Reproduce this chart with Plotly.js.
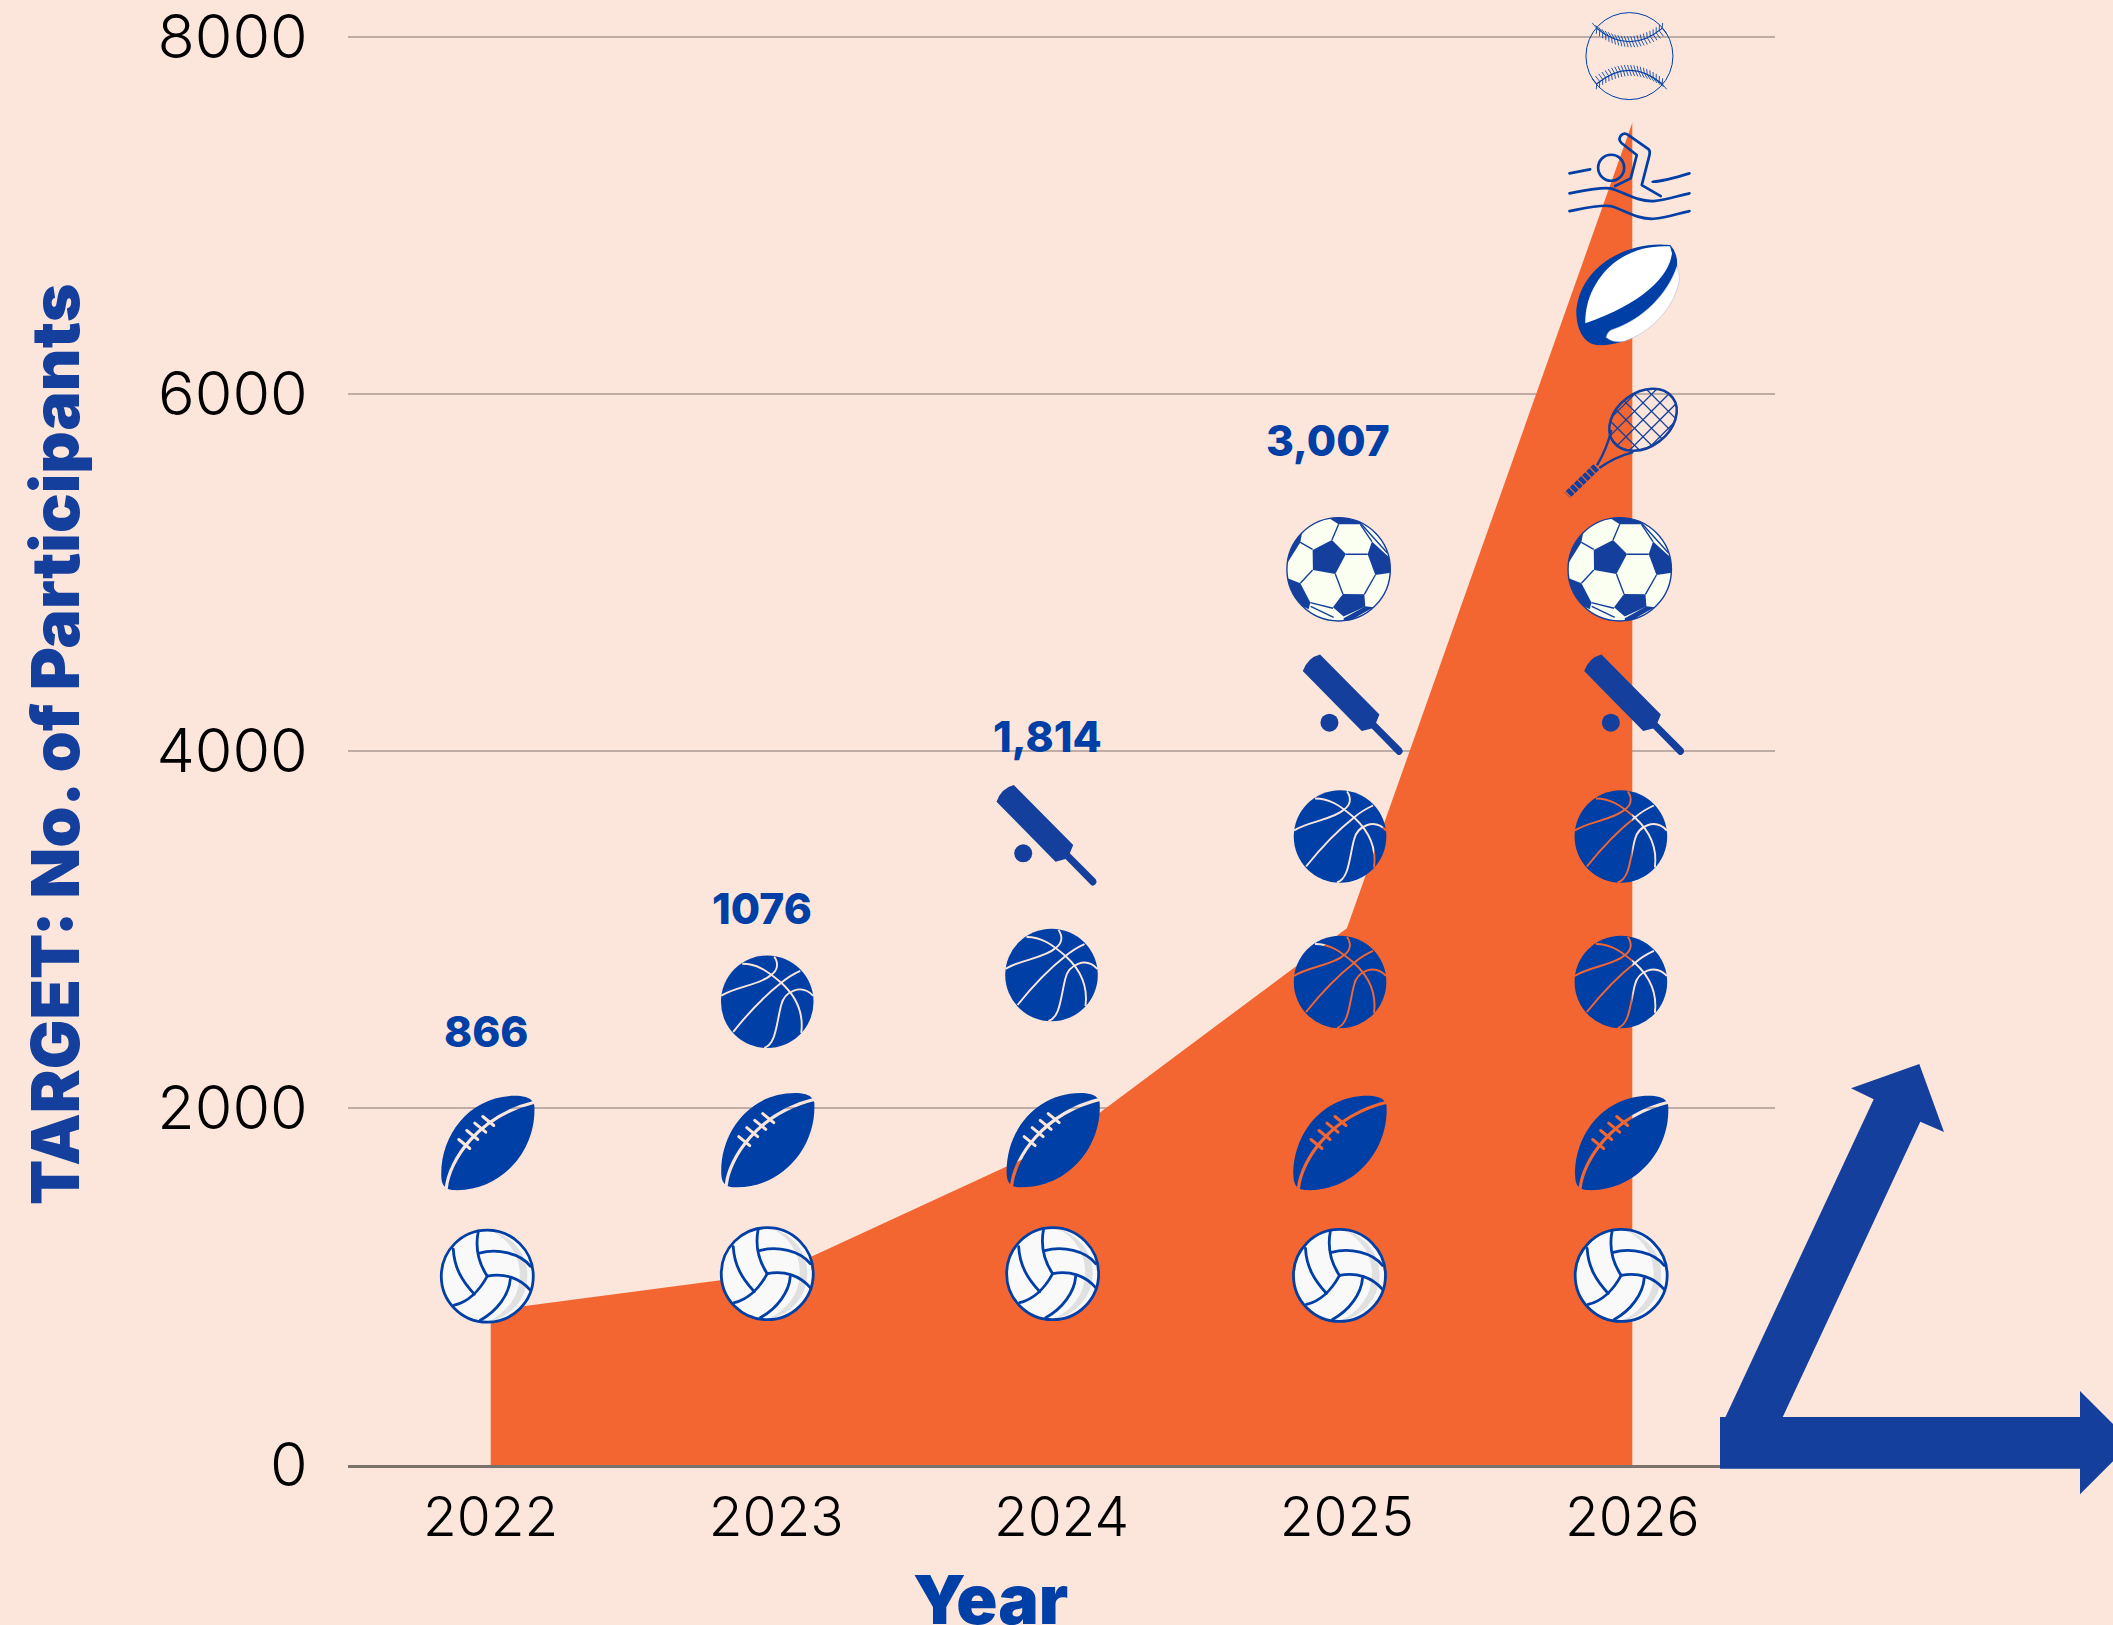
<!DOCTYPE html>
<html>
<head>
<meta charset="utf-8">
<script src="https://cdn.plot.ly/plotly-3.0.1.min.js"></script>
<style>html,body{margin:0;padding:0;background:#FCE6DB;overflow:hidden}#chart{width:2113px;height:1625px}</style>
</head>
<body>
<div id="chart"></div>
<script>
// ---- data ----
var years = [2022, 2023, 2024, 2025, 2026];
var targets = [866, 1076, 1814, 3007, 7520];
var yTicks = [0, 2000, 4000, 6000, 8000];
var labelTexts = ['866', '1076', '1,814', '3,007'];
var labelX = [2021.985, 2022.95, 2023.95, 2024.935];
var labelY = [2431, 3120, 4084, 5737];
var iconSport = ['volleyball','volleyball','volleyball','volleyball','volleyball',
  'football','football','football','football','football',
  'basketball','basketball','basketball','basketball','basketball','basketball',
  'bat','bat','bat','soccer','soccer','tennis','rugby','swim','baseball'];
var iconX = [2021.988,2022.969,2023.969,2024.974,2025.961,
  2021.988,2022.969,2023.969,2024.974,2025.961,
  2022.969,2023.965,2024.976,2025.960,2024.976,2025.960,
  2023.944,2025.017,2026.003,2024.971,2025.956,2025.958,2025.985,2025.990,2025.990];
var iconY = [1058,1072,1072,1062,1062,
  1804,1820,1820,1804,1804,
  2595,2745,2706,2706,3521,3521,
  3529,4261,4261,5018,5018,5725,6564,7221,7893];

// ---- page geometry and styles ----
var W = 2113, H = 1625, L = 348, R = 1775, T = 0, B = 1465;
var NAVY = '#003FA5', NAVY2 = '#143F9C', ORANGE = '#F36631', BG = '#FCE6DB';
var Y_TOP = 8000 * 1465 / 1428;
var pxPerYear = (R - L) / 5, pxPerUnit = (B - T) / Y_TOP;
var ICON_PX = 140;

function basketballSvg() {
  return '<mask id="m" maskUnits="userSpaceOnUse" x="-70" y="-70" width="140" height="140"><rect x="-70" y="-70" width="140" height="140" fill="#fff"/>' +
    '<g fill="none" stroke="#000" stroke-width="1.9">' +
    '<path d="M-34,30 C-18,10 0,-8 14,-19 Q22,-26 33,-31"/>' +
    '<path d="M-46,-6 C-33,-15 -6,-17 4,-27"/>' +
    '<path d="M-25,-38 C-10,-38 0,-31 14,-19 C25,-9 37,8 34,31"/>' +
    '<path d="M7,-45 C12,-38 10,-31 4,-27"/>' +
    '<path d="M-3,46 C9,42 9,22 14,3 C17,-10 34,-19 46,-6"/>' +
    '</g></mask><circle r="46.3" fill="' + NAVY + '" mask="url(#m)"/>';
}
function footballSvg() {
  var st = '';
  [[-23, 1], [-15, -8], [-7, -15.3], [1, -22]].forEach(function (p) {
    st += '<path d="M' + (p[0] - 5.5) + ',' + (p[1] - 4.5) + 'L' + (p[0] + 5.5) + ',' + (p[1] + 4.5) + '"/>';
  });
  return '<mask id="m" maskUnits="userSpaceOnUse" x="-70" y="-70" width="140" height="140"><rect x="-70" y="-70" width="140" height="140" fill="#fff"/>' +
    '<g fill="none" stroke="#000" stroke-linecap="round">' +
    '<path stroke-width="3.2" d="M-41,45 C-38,18 -10,-27 48,-41"/><g stroke-width="3">' + st + '</g></g></mask>' +
    '<path fill="' + NAVY + '" mask="url(#m)" d="M-46,33 C-47,-10 -15,-50 33,-47 Q45,-46 47,-38 C50,8 13,50 -35,47 Q-46,46 -46,33Z"/>';
}
function volleyballSvg() {
  return '<circle r="46" fill="#F9F9F9"/>' +
    '<path fill="#E0E0E0" d="M5,-45 C25,-35 35,-15 32,5 C30,25 15,38 2,45 A46,46 0 0 0 5,-45Z"/>' +
    '<g fill="none" stroke="' + NAVY + '" stroke-width="2.8" stroke-linecap="round">' +
    '<circle r="46"/>' +
    '<path d="M-9,-45 C-12,-30 -10,-15 0,0"/>' +
    '<path d="M-8,-23 C10,-28 33,-23 43,-10"/>' +
    '<path d="M0,0 C17,-3.5 33,2 43,14"/>' +
    '<path d="M0,0 C-8,15 -20,26 -33,29"/>' +
    '<path d="M-34,-27 C-33,-8 -25,5 -13,18"/>' +
    '<path d="M23,3 C22,18 10,35 -7,44"/></g>';
}
function soccerSvg() {
  return '<clipPath id="c"><circle r="51.7"/></clipPath><circle r="51.7" fill="#FBFFF2"/>' +
    '<g clip-path="url(#c)"><g fill="' + NAVY2 + '">' +
    '<path d="M-6.7,-29.3 L7.3,-15.3 L-3.3,4.7 L-25.7,0.7 L-26,-19.3Z"/>' +
    '<path d="M33.3,-27.7 L55,-8 L55,3 L36.7,5.7 L29,-15Z"/>' +
    '<path d="M-14,-54 L24,-54 L21.7,-45 L0,-45Z"/>' +
    '<path d="M4.3,24.7 L25.7,25 L26.7,37.3 L5,47.3 L-5.7,38Z"/>' +
    '<path d="M-55,8 L-51,9 L-38.3,14 L-28.3,33.3 L-30,40 L-50,30Z"/>' +
    '<path d="M-38.3,-27 L-52,-5 L-55,-20 L-35,-45Z"/>' +
    '<path d="M26.7,37 L35,38 L5,55 L5,49Z"/>' +
    '</g><g fill="none" stroke="' + NAVY2 + '" stroke-width="1.4">' +
    '<path d="M0,-45 L-6.7,-29.3"/><path d="M-38.3,-27 L-26,-20"/><path d="M-38.3,14 L-26,0.7"/>' +
    '<path d="M7.3,-15 L29,-15"/><path d="M-3.3,4.7 L4.3,24.7"/><path d="M36.7,5.7 L25.7,25"/>' +
    '<path d="M-28.3,33.3 L-5.7,39"/><path d="M21.7,-45 L33.3,-27.7"/><path d="M21,-47 L49,-16"/>' +
    '<path d="M-28,37 L-5,48"/></g></g>' +
    '<circle r="51.7" fill="none" stroke="' + NAVY2 + '" stroke-width="1.4"/>';
}
function batSvg() {
  return '<path fill="' + NAVY2 + '" d="M-31.7,-50 L27.7,10 L24.3,18.3 L50,44 Q52,47 50,49 Q48,51.5 45.5,50 L20,24 L10,26.7 L-49,-33.3 Q-44,-47 -31.7,-50Z"/>' +
    '<circle cx="-22.3" cy="18.3" r="9" fill="' + NAVY2 + '"/>';
}
function rugbySvg() {
  return '<path fill="' + NAVY + '" d="M-51.7,16.7 C-47.7,-26.7 -1,-53.3 42.3,-48.3 Q50,-40 49,-27 C40,0 15,30 -4,48 Q-25,54 -35,51 C-47,47 -52,32 -51.7,16.7Z"/>' +
    '<path fill="#fff" d="M-42.7,30 C-44,-5 -15,-50 42,-47 L44,-40 C41,-17 15,10 -42.7,30Z"/>' +
    '<path fill="#fff" stroke="#9FB2D8" stroke-width="0.5" d="M-22,44 Q-20,37 -15,36 C15,26 40,0 49,-27 L51.7,-17 C49,13 22,40 -4,48 Q-15,50 -22,44Z"/>';
}
function swimSvg() {
  return '<g fill="none" stroke="' + NAVY + '" stroke-width="2.7" stroke-linecap="round" stroke-linejoin="round">' +
    '<circle cx="-18.3" cy="-8.3" r="13"/>' +
    '<path d="M-14.3,10 L1.3,2.3 L7.3,-21 L-8,-33 Q-12,-37 -8,-41 Q-5,-44 -1,-41 L19,-27 Q21,-25 20,-21 L12.3,9 L31.3,20"/>' +
    '<path d="M-60,-2.7 L-39.3,-6.7"/><path d="M23.3,5.7 Q35,5 60,-2.7"/>' +
    '<path d="M-60,17.3 C-43,14 -29,10.7 -19,12.3 C-6,15.7 7,25.7 24,25 C37,24 51,19 60,17.3"/>' +
    '<path d="M-60,35 C-43,31.7 -29,28.4 -19,30 C-6,33.4 7,43.4 24,42.7 C37,41.7 51,36.7 60,35"/></g>';
}
function tennisSvg() {
  var s = '';
  for (var i = -60; i <= 60; i += 12) {
    s += '<path d="M' + i + ',-40 L' + i + ',40"/><path d="M-60,' + i + ' L60,' + i + '"/>';
  }
  return '<clipPath id="c"><ellipse cx="22.7" cy="-23.3" rx="37" ry="27" transform="rotate(-37 22.7 -23.3)"/></clipPath>' +
    '<g clip-path="url(#c)"><g fill="none" stroke="' + NAVY2 + '" stroke-width="1.3" transform="translate(22.7 -23.3) rotate(45)">' + s + '</g></g>' +
    '<g fill="none" stroke="' + NAVY2 + '">' +
    '<ellipse stroke-width="2.6" cx="22.7" cy="-23.3" rx="37" ry="27" transform="rotate(-37 22.7 -23.3)"/>' +
    '<path stroke-width="2.4" d="M-9,-13 Q-13,5 -23.3,22.3"/><path stroke-width="2.4" d="M13,9 Q-6,14 -21,25"/>' +
    '<path stroke-width="8" stroke-dasharray="4.5 1.2" d="M-24,24 L-53,52"/></g>';
}
function baseballSvg() {
  var t = '', rows = [[-27.7, -1, 1], [27.7, 1, -1]];
  rows.forEach(function (r) {
    for (var i = 0; i <= 22; i++) {
      var u = i / 22, x = -32.7 + 65.4 * u;
      var y = (1 - u) * (1 - u) * r[0] + 2 * u * (1 - u) * r[1] + u * u * r[0];
      var fan = (u - 0.5) * 5;
      t += '<path d="M' + x + ',' + y + ' L' + (x - 2 + fan) + ',' + (y - 5.5) + '"/><path d="M' + x + ',' + y + ' L' + (x + 2 + fan) + ',' + (y + 5.5) + '"/>';
    }
    t += '<path stroke-width="1.2" d="M-32.7,' + r[0] + ' Q0,' + r[1] + ' 32.7,' + r[0] + '"/>';
  });
  return '<g fill="none" stroke="' + NAVY + '" stroke-width="0.85"><circle r="43.5" stroke-width="1"/>' + t + '</g>';
}
var iconBuilders = {
  volleyball: volleyballSvg, football: footballSvg, basketball: basketballSvg, bat: batSvg,
  soccer: soccerSvg, tennis: tennisSvg, rugby: rugbySvg, swim: swimSvg, baseball: baseballSvg
};
function iconUri(name) {
  var half = ICON_PX / 2;
  var svg = '<svg xmlns="http://www.w3.org/2000/svg" width="' + ICON_PX * 2 + '" height="' + ICON_PX * 2 +
    '" viewBox="' + (-half) + ' ' + (-half) + ' ' + ICON_PX + ' ' + ICON_PX + '">' + iconBuilders[name]() + '</svg>';
  return 'data:image/svg+xml;base64,' + btoa(svg);
}
var images = iconSport.map(function (name, i) {
  return {
    source: iconUri(name), xref: 'x', yref: 'y', x: iconX[i], y: iconY[i],
    sizex: ICON_PX / pxPerYear, sizey: ICON_PX / pxPerUnit,
    xanchor: 'center', yanchor: 'middle', sizing: 'stretch', layer: 'above'
  };
});

function px2paperX(p) { return (p - L) / (R - L); }
function px2paperY(p) { return (B - p) / (B - T); }
function arrowPath(pts) {
  return pts.map(function (p, i) {
    return (i ? 'L' : 'M') + px2paperX(p[0]) + ',' + px2paperY(p[1]);
  }).join(' ') + ' Z';
}
var arrowShapes = [
  [[1725, 1418], [1873.7, 1099.3], [1851, 1088.3], [1919.3, 1064], [1944, 1132], [1920.3, 1121.7], [1782.3, 1418]],
  [[1720, 1417], [2080, 1417], [2080, 1391], [2131.7, 1442.7], [2080, 1494.3], [2080, 1468.7], [1720, 1468.7]]
].map(function (pts) {
  return { type: 'path', xref: 'paper', yref: 'paper', path: arrowPath(pts), fillcolor: NAVY2, line: { width: 0 }, layer: 'above' };
});

var annotations = labelTexts.map(function (t, i) {
  return {
    text: t, x: labelX[i], y: labelY[i], xref: 'x', yref: 'y', showarrow: false,
    xanchor: 'center', yanchor: 'middle',
    font: { family: 'Inter, sans-serif', size: 42.5, weight: 800, color: NAVY }
  };
});
annotations.push({
  text: 'Year', xref: 'paper', yref: 'paper', x: px2paperX(990), y: px2paperY(1599), showarrow: false,
  xanchor: 'center', yanchor: 'middle', font: { family: 'Inter, sans-serif', size: 68, weight: 900, color: NAVY }
});
annotations.push({
  text: 'TARGET: No. of Participants', xref: 'paper', yref: 'paper', x: px2paperX(55), y: px2paperY(744), showarrow: false,
  xanchor: 'center', yanchor: 'middle', textangle: -90, font: { family: 'Inter, sans-serif', size: 66, weight: 900, color: NAVY2 }
});

Plotly.newPlot('chart', [{
  type: 'scatter', mode: 'lines', x: years, y: targets, fill: 'tozeroy', fillcolor: ORANGE,
  line: { width: 0, color: ORANGE }, hoverinfo: 'x+y'
}], {
  width: W, height: H, showlegend: false, paper_bgcolor: BG, plot_bgcolor: BG,
  margin: { l: L, r: W - R, t: T, b: H - B, pad: 0 },
  xaxis: {
    type: 'linear', range: [2021.5, 2026.5], tickmode: 'array', tickvals: years, ticktext: years.map(String),
    showgrid: false, zeroline: false, showline: true, linecolor: '#7D716C', linewidth: 2.6,
    ticks: 'outside', ticklen: 2, tickcolor: 'rgba(0,0,0,0)', ticklabeloverflow: 'allow',
    tickfont: { family: 'Inter, sans-serif', size: 55, weight: 300, color: '#000' }
  },
  yaxis: {
    range: [0, Y_TOP], tickmode: 'array', tickvals: yTicks, ticktext: yTicks.map(String),
    showgrid: true, gridcolor: '#BFACA5', gridwidth: 2.7, zeroline: false, showline: false,
    ticks: 'outside', ticklen: 27, tickcolor: 'rgba(0,0,0,0)', ticklabeloverflow: 'allow',
    tickfont: { family: 'Inter, sans-serif', size: 61, weight: 300, color: '#000' }
  },
  images: images, shapes: arrowShapes, annotations: annotations
}, { displayModeBar: false, staticPlot: true });
</script>
</body>
</html>
